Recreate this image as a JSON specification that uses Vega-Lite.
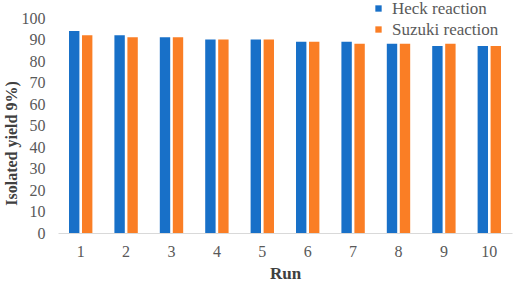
{
  "$schema": "https://vega.github.io/schema/vega-lite/v6.json",
  "width": 454,
  "height": 215,
  "autosize": {"type": "none"},
  "padding": {"left": 58, "top": 18, "right": 7, "bottom": 50},
  "background": "white",
  "config": {
    "view": {"stroke": null},
    "font": "Liberation Serif"
  },
  "data": {
    "values": [
      {"Run": "1", "Reaction": "Heck reaction", "Yield": 94},
      {"Run": "1", "Reaction": "Suzuki reaction", "Yield": 92},
      {"Run": "2", "Reaction": "Heck reaction", "Yield": 92},
      {"Run": "2", "Reaction": "Suzuki reaction", "Yield": 91},
      {"Run": "3", "Reaction": "Heck reaction", "Yield": 91},
      {"Run": "3", "Reaction": "Suzuki reaction", "Yield": 91},
      {"Run": "4", "Reaction": "Heck reaction", "Yield": 90},
      {"Run": "4", "Reaction": "Suzuki reaction", "Yield": 90},
      {"Run": "5", "Reaction": "Heck reaction", "Yield": 90},
      {"Run": "5", "Reaction": "Suzuki reaction", "Yield": 90},
      {"Run": "6", "Reaction": "Heck reaction", "Yield": 89},
      {"Run": "6", "Reaction": "Suzuki reaction", "Yield": 89},
      {"Run": "7", "Reaction": "Heck reaction", "Yield": 89},
      {"Run": "7", "Reaction": "Suzuki reaction", "Yield": 88},
      {"Run": "8", "Reaction": "Heck reaction", "Yield": 88},
      {"Run": "8", "Reaction": "Suzuki reaction", "Yield": 88},
      {"Run": "9", "Reaction": "Heck reaction", "Yield": 87},
      {"Run": "9", "Reaction": "Suzuki reaction", "Yield": 88},
      {"Run": "10", "Reaction": "Heck reaction", "Yield": 87},
      {"Run": "10", "Reaction": "Suzuki reaction", "Yield": 87}
    ]
  },
  "mark": {"type": "bar"},
  "encoding": {
    "x": {
      "field": "Run",
      "type": "ordinal",
      "sort": null,
      "scale": {"paddingInner": 0.485, "paddingOuter": 0.2425},
      "axis": {
        "title": "Run",
        "labelAngle": 0,
        "labelFont": "Liberation Serif",
        "labelFontSize": 16,
        "labelColor": "#595959",
        "labelPadding": 10,
        "ticks": false,
        "domainColor": "#d9d9d9",
        "domainWidth": 1,
        "titleFont": "Liberation Serif",
        "titleFontSize": 17,
        "titleFontWeight": "bold",
        "titleColor": "#404040",
        "titlePadding": 6
      }
    },
    "xOffset": {
      "field": "Reaction",
      "type": "nominal",
      "scale": {"paddingInner": 0.2, "paddingOuter": 0}
    },
    "y": {
      "field": "Yield",
      "type": "quantitative",
      "scale": {"domain": [0, 100]},
      "axis": {
        "title": "Isolated yield 9%)",
        "values": [0, 10, 20, 30, 40, 50, 60, 70, 80, 90, 100],
        "grid": false,
        "domain": false,
        "ticks": false,
        "labelFont": "Liberation Serif",
        "labelFontSize": 16,
        "labelColor": "#595959",
        "labelPadding": 13,
        "titleFont": "Liberation Serif",
        "titleFontSize": 16,
        "titleFontWeight": "bold",
        "titleColor": "#404040",
        "titleX": -39,
        "titleY": 125
      }
    },
    "color": {
      "field": "Reaction",
      "type": "nominal",
      "scale": {"domain": ["Heck reaction", "Suzuki reaction"], "range": ["#1870c8", "#fa7e25"]},
      "legend": {
        "title": null,
        "orient": "none",
        "legendX": 312,
        "legendY": -18,
        "symbolType": "square",
        "symbolSize": 40,
        "symbolStrokeWidth": 0,
        "labelFont": "Liberation Serif",
        "labelFontSize": 17,
        "labelColor": "#595959",
        "labelOffset": 5,
        "rowPadding": 3
      }
    }
  }
}
